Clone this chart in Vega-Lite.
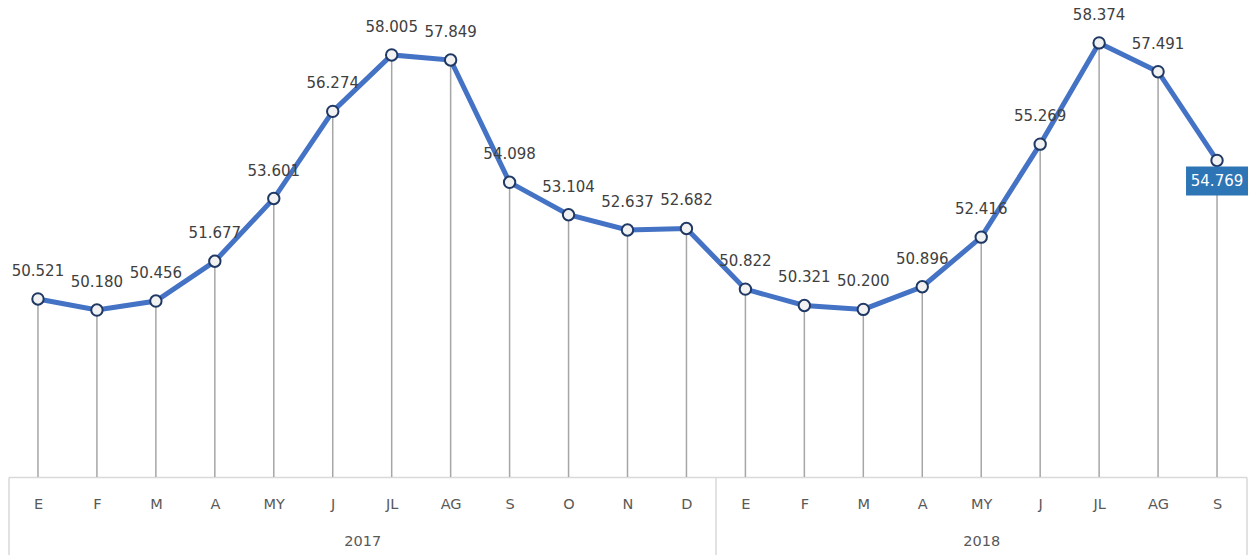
{
  "$schema": "https://vega.github.io/schema/vega-lite/v6.json",
  "width": 1238,
  "height": 477,
  "autosize": {"type": "none"},
  "padding": {"left": 8.5, "top": 0, "right": 2.5, "bottom": 78},
  "background": "white",
  "config": {"view": {"stroke": null}},
  "data": {
    "values": [
      {"idx": 0, "year": "2017", "month": "E", "value": 50.521},
      {"idx": 1, "year": "2017", "month": "F", "value": 50.180},
      {"idx": 2, "year": "2017", "month": "M", "value": 50.456},
      {"idx": 3, "year": "2017", "month": "A", "value": 51.677},
      {"idx": 4, "year": "2017", "month": "MY", "value": 53.601},
      {"idx": 5, "year": "2017", "month": "J", "value": 56.274},
      {"idx": 6, "year": "2017", "month": "JL", "value": 58.005},
      {"idx": 7, "year": "2017", "month": "AG", "value": 57.849},
      {"idx": 8, "year": "2017", "month": "S", "value": 54.098},
      {"idx": 9, "year": "2017", "month": "O", "value": 53.104},
      {"idx": 10, "year": "2017", "month": "N", "value": 52.637},
      {"idx": 11, "year": "2017", "month": "D", "value": 52.682},
      {"idx": 12, "year": "2018", "month": "E", "value": 50.822},
      {"idx": 13, "year": "2018", "month": "F", "value": 50.321},
      {"idx": 14, "year": "2018", "month": "M", "value": 50.200},
      {"idx": 15, "year": "2018", "month": "A", "value": 50.896},
      {"idx": 16, "year": "2018", "month": "MY", "value": 52.416},
      {"idx": 17, "year": "2018", "month": "J", "value": 55.269},
      {"idx": 18, "year": "2018", "month": "JL", "value": 58.374},
      {"idx": 19, "year": "2018", "month": "AG", "value": 57.491},
      {"idx": 20, "year": "2018", "month": "S", "value": 54.769, "last": true}
    ]
  },
  "encoding": {
    "x": {"field": "idx", "type": "quantitative", "scale": {"domain": [-0.5, 20.5], "nice": false, "zero": false}, "axis": null},
    "y": {"field": "value", "type": "quantitative", "scale": {"domain": [45.06, 59.69], "nice": false, "zero": false}, "axis": null}
  },
  "layer": [
    {
      "mark": {"type": "rule", "color": "#A6A6A6", "strokeWidth": 1.5},
      "encoding": {
        "y2": {"datum": 45.06},
        "x": {"field": "idx", "type": "quantitative", "axis": {
          "orient": "bottom",
          "title": null, "values": [0,1,2,3,4,5,6,7,8,9,10,11,12,13,14,15,16,17,18,19,20],
          "labelExpr": "['E','F','M','A','MY','J','JL','AG','S','O','N','D'][datum.value % 12]",
          "ticks": false, "grid": false, "domain": true, "domainColor": "#D9D9D9", "domainWidth": 1.5,
          "labelPadding": 20, "labelFont": "DejaVu Sans", "labelFontSize": 14.5, "labelColor": "#595959",
          "labelAlign": "center", "labelOverlap": false, "labelFlush": false
        }}
      }
    },
    {
      "mark": {"type": "line", "color": "#4472C4", "strokeWidth": 5},
      "encoding": {
        "x": {"field": "idx", "type": "quantitative", "axis": {
          "orient": "bottom",
          "title": null, "values": [5.5, 16],
          "labelExpr": "datum.value < 11 ? '2017' : '2018'",
          "ticks": false, "grid": false, "domain": false,
          "labelPadding": 57, "labelFont": "DejaVu Sans", "labelFontSize": 14.5, "labelColor": "#595959",
          "labelAlign": "center", "labelOverlap": false, "labelFlush": false
        }}
      }
    },
    {
      "mark": {"type": "point", "filled": true, "fill": "#F2F2F2", "stroke": "#1F3864", "strokeWidth": 2, "size": 130, "opacity": 1},
      "encoding": {
        "x": {"field": "idx", "type": "quantitative", "axis": {
          "orient": "bottom",
          "title": null, "values": [-0.5, 11.5, 20.5],
          "labels": false, "ticks": true, "tickSize": 78, "tickColor": "#D9D9D9", "tickWidth": 1.5,
          "grid": false, "domain": false
        }}
      }
    },
    {
      "transform": [{"filter": "!datum.last"}],
      "mark": {"type": "text", "dy": -28, "baseline": "middle", "align": "center", "font": "DejaVu Sans", "fontSize": 15, "color": "#404040"},
      "encoding": {"text": {"field": "value", "type": "quantitative", "format": ".3f"}}
    },
    {
      "transform": [{"filter": "datum.last"}],
      "mark": {"type": "point", "shape": "M-1,-0.47H1V0.47H-1Z", "filled": true, "color": "#2E75B6", "opacity": 1, "size": 3844, "yOffset": 20.5},
      "encoding": {}
    },
    {
      "transform": [{"filter": "datum.last"}],
      "mark": {"type": "text", "dy": 21, "baseline": "middle", "align": "center", "font": "DejaVu Sans", "fontSize": 15, "color": "white"},
      "encoding": {"text": {"field": "value", "type": "quantitative", "format": ".3f"}}
    }
  ],
  "resolve": {"axis": {"x": "independent"}}
}
